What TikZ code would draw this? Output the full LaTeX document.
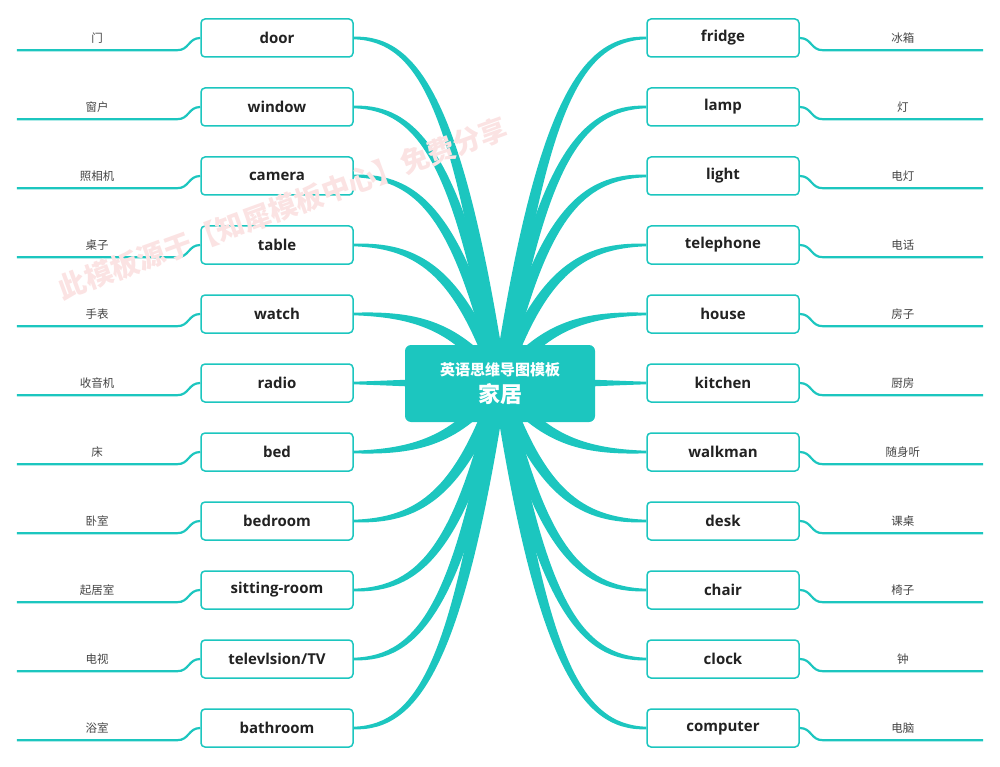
\documentclass[tikz,border=0pt]{standalone}
\usepackage{fontspec}
\setmainfont{Open Sans}
\newfontfamily\cjk{Noto Sans CJK SC}
\usetikzlibrary{positioning, calc, backgrounds}
\definecolor{xiteal}{HTML}{1CC6BF}
\definecolor{ink}{HTML}{222222}
\definecolor{leafgray}{HTML}{444444}
\definecolor{wmred}{HTML}{FBE3E3}
\tikzset{
  hub/.style={fill=xiteal, text=white, rounded corners=6, minimum width=190, minimum height=77, inner sep=0, align=center, font=\cjk\bfseries\fontsize{15}{20}\selectfont},
  item/.style={draw=xiteal, line width=1.5, fill=white, rounded corners=4, minimum width=152, minimum height=38, inner sep=0, text=ink, font=\bfseries\fontsize{15}{18}\selectfont},
  leaf/.style={minimum width=160, minimum height=24, inner sep=0, text=leafgray, font=\cjk\fontsize{11.5}{13}\selectfont},
  twig/.style={draw=xiteal, line width=2.2},
  branch/.style={fill=xiteal},
  watermark/.style={text=wmred, rotate=20, font=\cjk\bfseries\fontsize{28}{30}\selectfont}
}

\begin{document}
\begin{tikzpicture}[x=1pt, y=-1pt]
    \useasboundingbox (0,0) rectangle (1000,767);
    \node[hub] (hub) at (500,383.5) {英语思维导图模板\\[6pt]{\fontsize{22}{24}\selectfont 家居}};
    % left column
    \foreach \w [count=\i from 0] in {door, window, camera, table, watch, radio, bed, bedroom, sitting-room, televlsion/TV, bathroom}
      \node[item] (l\i) at (277,{38+69*\i}) {\w};
    \foreach \c [count=\i from 0] in {门, 窗户, 照相机, 桌子, 手表, 收音机, 床, 卧室, 起居室, 电视, 浴室}{
      \node[leaf, left=23pt of l\i] (lt\i) {\c};
      \draw[twig] (l\i.west) .. controls +(-12,0) and +(12,0) .. (lt\i.south east) -- (lt\i.south west);
    }
    % right column
    \foreach \w [count=\i from 0] in {fridge, lamp, light, telephone, house, kitchen, walkman, desk, chair, clock, computer}
      \node[item] (r\i) at (723,{38+69*\i}) {\w};
    \foreach \c [count=\i from 0] in {冰箱, 灯, 电灯, 电话, 房子, 厨房, 随身听, 课桌, 椅子, 钟, 电脑}{
      \node[leaf, right=23pt of r\i] (rt\i) {\c};
      \draw[twig] (r\i.east) .. controls +(12,0) and +(-12,0) .. (rt\i.south west) -- (rt\i.south east);
    }
    % tapered branches behind the hub
    \begin{scope}[on background layer]
      \foreach \s/\a in {l/east, r/west}
        \foreach \i in {0,...,10}{
          \coordinate (p1) at ($(hub.center)!.28!(\s\i.\a)$);
          \coordinate (q1) at ($(hub.center)!.8!(\s\i.\a)$);
          \coordinate (p2) at ($(hub.center)!.55!(\s\i.\a)$);
          \coordinate (c1) at (p1 |- q1);
          \coordinate (c2) at (p2 |- \s\i.\a);
          \fill[branch] ($(hub.center)!7pt!90:(c1)$) .. controls ($(c1)!6pt!90:(c2)$) and ($(c2)!3.5pt!90:(\s\i.\a)$) .. ($(\s\i.\a)!1.3pt!-90:(c2)$)
            -- ($(\s\i.\a)!1.3pt!90:(c2)$) .. controls ($(c2)!3.5pt!-90:(\s\i.\a)$) and ($(c1)!6pt!-90:(c2)$) .. ($(hub.center)!7pt!-90:(c1)$) -- cycle;
        }
    \end{scope}
    \node[watermark] (wm) at (283,208) {此模板源于【知犀模板中心】免费分享};
\end{tikzpicture}
\end{document}
